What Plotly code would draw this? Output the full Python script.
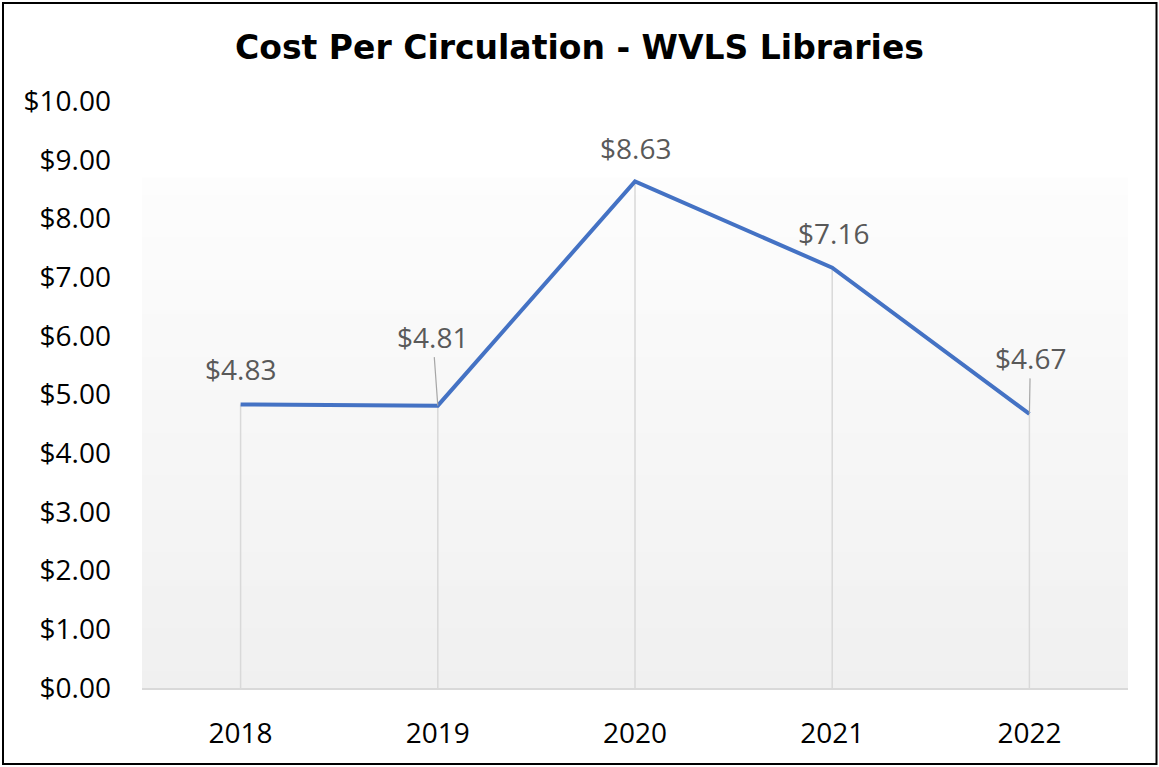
import plotly.graph_objects as go

# Cost per circulation by year
years = ["2018", "2019", "2020", "2021", "2022"]
cost = [4.83, 4.81, 8.63, 7.16, 4.67]
y_ticks = [0, 1, 2, 3, 4, 5, 6, 7, 8, 9, 10]
y_tick_text = ["$%.2f" % v for v in y_ticks]

# years are placed at evenly spaced integer positions
xpos = list(range(len(years)))

W, H = 1159, 767
M = dict(l=142, r=31, t=101, b=79)
plot_w = W - M["l"] - M["r"]
plot_h = H - M["t"] - M["b"]

LABEL_FONT = "Open Sans"
LABEL_SIZE = 28

fig = go.Figure()

# vertical drop lines from each point down to the axis
drop_x, drop_y = [], []
for xp, v in zip(xpos, cost):
    drop_x += [xp, xp, None]
    drop_y += [0, v, None]
fig.add_trace(go.Scatter(x=drop_x, y=drop_y, mode="lines",
                         line=dict(color="#d9d9d9", width=1.5),
                         hoverinfo="skip", showlegend=False))

# main series
fig.add_trace(go.Scatter(x=xpos, y=cost, mode="lines",
                         line=dict(color="#4472C4", width=4),
                         showlegend=False))

# data labels (pixel offsets; some carry a leader line to the point)
label_offsets = [(0, -35, False), (-5, -69, True), (0, -33, False),
                 (1, -35, False), (1, -56, True)]
for xp, v, (ax, ay, leader) in zip(xpos, cost, label_offsets):
    if leader:
        fig.add_annotation(x=xp, y=v, xref="x", yref="y",
                           text="$%.2f" % v, showarrow=True,
                           ax=ax, ay=ay, arrowhead=0, arrowwidth=1.2,
                           arrowcolor="#a6a6a6",
                           font=dict(family=LABEL_FONT, size=LABEL_SIZE,
                                     color="#595959"))
    else:
        fig.add_annotation(x=xp, y=v, xref="x", yref="y",
                           text="$%.2f" % v, showarrow=False,
                           xshift=ax, yshift=-ay,
                           font=dict(family=LABEL_FONT, size=LABEL_SIZE,
                                     color="#595959"))

# soft vertical gradient behind the plot area (white above, light grey below)
shapes = []
n_bands = 60
top_frac = (688 - 178) / plot_h
top_c, bot_c = (253, 253, 253), (240, 240, 240)
for i in range(n_bands):
    f0 = top_frac * i / n_bands
    f1 = top_frac * (i + 1) / n_bands
    t = (i + 0.5) / n_bands
    c = tuple(round(bot_c[k] + (top_c[k] - bot_c[k]) * t) for k in range(3))
    shapes.append(dict(type="rect", xref="paper", yref="paper",
                       x0=0, x1=1, y0=f0, y1=f1 + 0.001,
                       fillcolor="rgb(%d,%d,%d)" % c, line=dict(width=0),
                       layer="below"))


def px_to_paper_x(px):
    return (px - M["l"]) / plot_w


def px_to_paper_y(py):
    return (H - M["b"] - py) / plot_h


# outer frame around the whole chart
shapes.append(dict(type="rect", xref="paper", yref="paper",
                   x0=px_to_paper_x(3), x1=px_to_paper_x(1156.5),
                   y0=px_to_paper_y(764), y1=px_to_paper_y(3),
                   line=dict(color="black", width=2),
                   fillcolor="rgba(0,0,0,0)", layer="above"))

fig.update_layout(
    width=W, height=H, margin=M,
    paper_bgcolor="white", plot_bgcolor="rgba(0,0,0,0)",
    shapes=shapes,
    title=dict(text="<b>Cost Per Circulation - WVLS Libraries</b>",
               x=0.5, xref="container", y=1 - 47 / H, yref="container",
               xanchor="center", yanchor="middle",
               font=dict(family="DejaVu Sans", size=33, color="black")),
    xaxis=dict(range=[-0.5, len(years) - 0.5], tickvals=xpos, ticktext=years,
               showgrid=False, showline=True, linecolor="#d9d9d9",
               linewidth=1.5, ticks="", ticklabelstandoff=20, zeroline=False,
               tickfont=dict(family=LABEL_FONT, size=LABEL_SIZE, color="black")),
    yaxis=dict(range=[0, 10], tickvals=y_ticks, ticktext=y_tick_text,
               showgrid=False, zeroline=False, showline=False, ticks="",
               ticklabelstandoff=30,
               tickfont=dict(family=LABEL_FONT, size=LABEL_SIZE, color="black")),
)

fig.write_html("out.html")
